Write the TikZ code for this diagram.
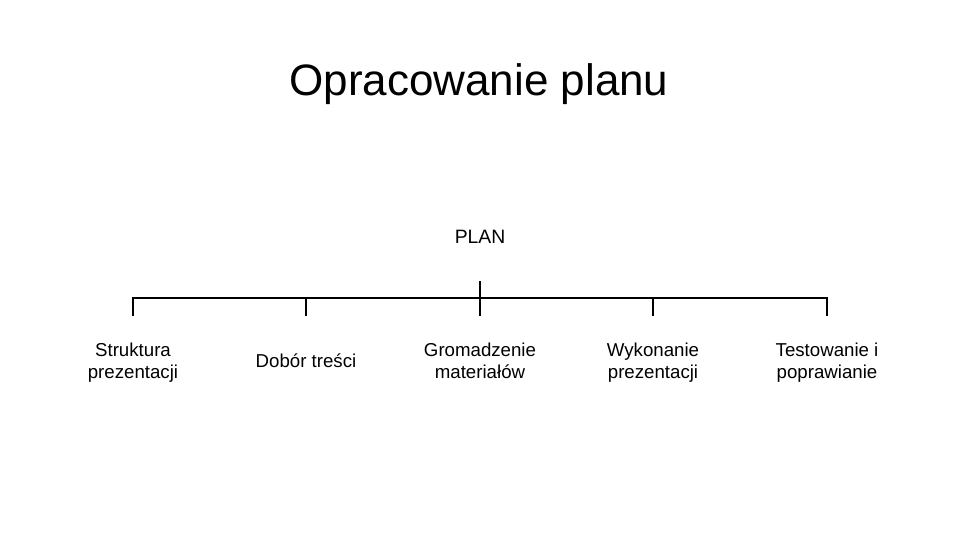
\documentclass[tikz,border=0pt]{standalone}
\usepackage{fontspec}
\setmainfont{Liberation Sans}
\usetikzlibrary{positioning}

\begin{document}
\begin{tikzpicture}[x=0.75pt, y=-0.75pt]
\tikzstyle{heading} = [inner sep=0pt, font=\fontsize{33}{39}\selectfont]
\tikzstyle{task} = [align=center, inner sep=0pt, text depth=0pt, font=\fontsize{14}{16.5}\selectfont]
\tikzstyle{line} = [line width=1.5pt]

\useasboundingbox (0,0) rectangle (960,540);

\node (Title) [heading] at (479,84) {Opracowanie planu};
\node (Plan) [task, font=\fontsize{14.5}{17}\selectfont] at (480,237) {PLAN};

% tree bar
\coordinate (Top) at (480,281);
\foreach \x [count=\i] in {133,306,480,653,827} {
  \coordinate (Bar\i) at (\x,298);
  \coordinate (Tick\i) at (\x,316);
}

\node (Struktura) [task] at (133,361) {Struktura\\prezentacji};
\node (Dobor) [task] at (306,361) {Dobór treści};
\node (Gromadzenie) [task] at (480,361) {Gromadzenie\\materiałów};
\node (Wykonanie) [task] at (653,361) {Wykonanie\\prezentacji};
\node (Testowanie) [task] at (827,361) {Testowanie i\\poprawianie};

\draw [line] (Top) -- (Tick3);
\draw [line] (Tick1) -- (Bar1) -- (Bar5) -- (Tick5);
\draw [line] (Bar2) -- (Tick2);
\draw [line] (Bar4) -- (Tick4);
\end{tikzpicture}
\end{document}
